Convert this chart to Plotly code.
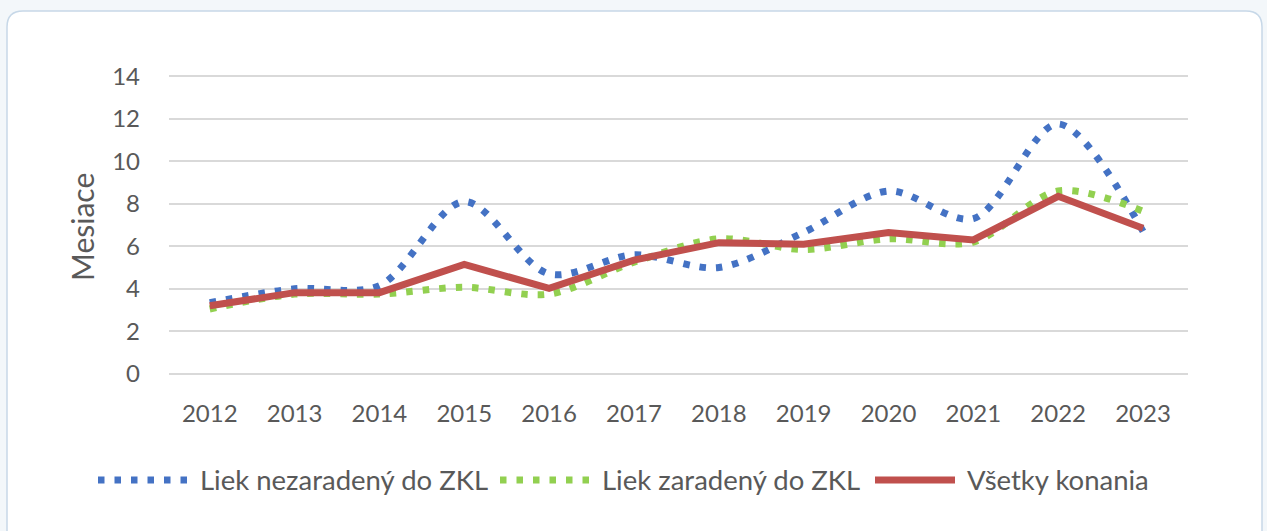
import plotly.graph_objects as go

years = [2012, 2013, 2014, 2015, 2016, 2017, 2018, 2019, 2020, 2021, 2022, 2023]
year_labels = [str(y) for y in years]
nezaradeny = [3.35, 4.0, 4.15, 8.1, 4.7, 5.6, 5.0, 6.65, 8.6, 7.3, 11.75, 6.7]
zaradeny = [3.05, 3.75, 3.75, 4.07, 3.75, 5.25, 6.35, 5.85, 6.35, 6.2, 8.6, 7.65]
vsetky = [3.2, 3.82, 3.82, 5.15, 4.02, 5.35, 6.17, 6.1, 6.65, 6.3, 8.35, 6.85]
series_names = ["Liek nezaradený do ZKL", "Liek zaradený do ZKL", "Všetky konania"]
y_ticks = [0, 2, 4, 6, 8, 10, 12, 14]

BLUE = "#4472C4"
GREEN = "#92D050"
RED = "#C0504D"
TXT = "#595959"
FONT = "Lato"
DOTS = "6.5px,10px"

W, H = 1267, 531
ML, MR, MT, MB = 169, 79, 74, 155
PW, PH = W - ML - MR, H - MT - MB


def X(px):
    return (px - ML) / PW


def Y(py):
    return (H - MB - py) / PH


fig = go.Figure()
fig.add_trace(go.Scatter(x=years, y=nezaradeny, name=series_names[0], mode="lines",
                         line=dict(color=BLUE, width=7, dash=DOTS, shape="spline", smoothing=0.9)))
fig.add_trace(go.Scatter(x=years, y=zaradeny, name=series_names[1], mode="lines",
                         line=dict(color=GREEN, width=7, dash=DOTS, shape="spline", smoothing=0.9)))
fig.add_trace(go.Scatter(x=years, y=vsetky, name=series_names[2], mode="lines",
                         line=dict(color=RED, width=7)))

# card background with rounded top corners
x0, x1, yt, yb = X(7), X(1262), Y(11), Y(560)
rx, ry = 16 / PW, 16 / PH
card = (f"M {x0},{yb} L {x0},{yt - ry} Q {x0},{yt} {x0 + rx},{yt} "
        f"L {x1 - rx},{yt} Q {x1},{yt} {x1},{yt - ry} L {x1},{yb} Z")
shapes = [dict(type="path", xref="paper", yref="paper", path=card, fillcolor="white",
               line=dict(color="#C7D8E8", width=1.5), layer="below")]

# custom legend
leg = [(98, 188, 198, BLUE, DOTS), (500, 590, 600, GREEN, DOTS), (875, 955, 965, RED, "solid")]
annotations = []
for (a, b, t, c, d), name in zip(leg, series_names):
    shapes.append(dict(type="line", xref="paper", yref="paper", x0=X(a), x1=X(b), y0=Y(480), y1=Y(480),
                       line=dict(color=c, width=7, dash=d)))
    annotations.append(dict(xref="paper", yref="paper", x=X(t), y=Y(479), xanchor="left", yanchor="middle",
                            text=name, showarrow=False, font=dict(family=FONT, size=27.5, color=TXT)))

annotations.append(dict(xref="paper", yref="paper", x=X(82), y=Y(227), xanchor="center", yanchor="middle",
                        text="Mesiace", textangle=-90, showarrow=False,
                        font=dict(family=FONT, size=30, color=TXT)))

fig.update_layout(
    width=W, height=H,
    margin=dict(l=ML, r=MR, t=MT, b=MB, autoexpand=False),
    paper_bgcolor="#F3F7FA",
    plot_bgcolor="rgba(0,0,0,0)",
    showlegend=False,
    shapes=shapes,
    annotations=annotations,
    font=dict(family=FONT, color=TXT, size=23),
    xaxis=dict(range=[2011.52, 2023.53], tickvals=years, ticktext=year_labels, showgrid=False,
               zeroline=False, showline=False, ticks="", ticklabelstandoff=21,
               tickfont=dict(family=FONT, size=24, color=TXT), fixedrange=True),
    yaxis=dict(range=[-0.1, 14.1], tickvals=y_ticks, showgrid=True, gridcolor="#D9D9D9", gridwidth=1.5,
               zeroline=False, showline=False, ticks="", ticklabelstandoff=28,
               tickfont=dict(family=FONT, size=24, color=TXT), fixedrange=True),
)

fig.write_html("out.html", config={"displayModeBar": False},
               post_script="document.body.style.margin='0';document.body.style.background='#F3F7FA';")
